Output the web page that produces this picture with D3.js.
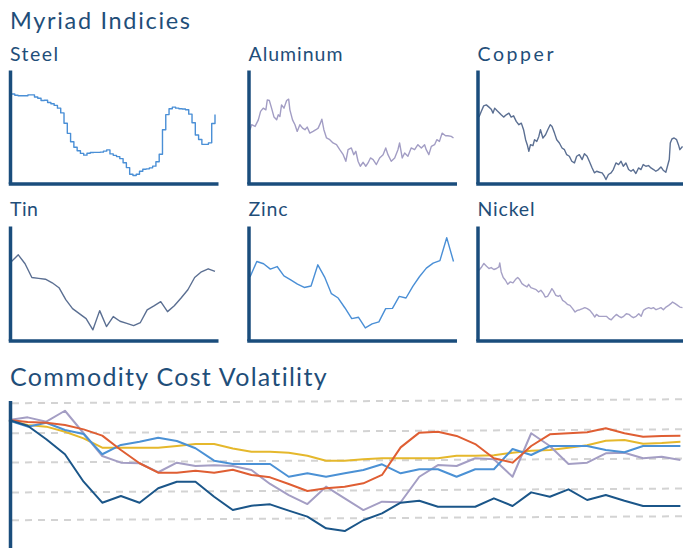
<!DOCTYPE html>
<html><head><meta charset="utf-8">
<script src="https://cdn.jsdelivr.net/npm/d3@7"></script>
<style>html,body{margin:0;padding:0;background:#fff;overflow:hidden}svg{display:block}</style>
</head><body>
<svg id="c" width="683" height="548"></svg>
<script>
// ---------- small-multiple data (index values, 0..100 of each panel's range) ----------
const steelValues = [78.8,77.8,77.3,77.3,77.3,78.1,78.1,76.2,75.1,73.1,73.4,71.4,70.3,68.8,66.4,62.2,53.1,44.2,36.8,32.0,28.9,26.5,25.0,26.7,27.3,27.4,27.4,27.6,28.5,29.6,26.1,24.8,23.7,21.9,18.3,14.0,8.2,7.1,8.2,10.8,12.6,12.9,13.8,15.3,19.2,25.8,47.3,60.7,65.8,67.3,66.4,65.9,65.6,65.0,61.1,53.5,42.7,38.8,34.5,34.5,35.8,52.8,60.7];

const aluminumWeeks = [0,0.8,2.5,4.1,5.2,6.5,7.8,8.5,9.5,10.6,11.8,13.1,13.9,14.7,15.5,16.7,18.0,19.0,19.6,20.9,22.1,23.2,24.5,25.8,27.0,28.1,29.4,31.0,32.4,33.5,34.6,35.3,36.3,37.6,39.2,40.8,42.5,44.1,45.8,47.1,48.2,49.8,51.0,52.0,53.1,54.2,55.6,56.9,58.0,59.2,60.5,62.1,63.7,65.4,66.7,67.8,69.4,71.1,72.7,73.5,74.8,76.0,77.6,79.2,80.9,82.5,84.2,85.8,86.6,87.9,89.1,90.7,91.8,93.1,94.4,96.1,97.2,98.9,100];
const aluminumValues = [47.4,51.8,50.3,56.1,63.5,66.4,64.9,73.7,73.1,66.4,58.5,56.1,60.5,59.1,69.3,66.4,73.1,74.3,64.9,56.1,51.8,45.9,51.8,48.8,47.4,49.7,44.4,45.9,47.4,48.8,53.2,56.7,47.4,40.1,38.6,35.7,34.2,29.8,25.4,19.6,29.8,31.3,25.4,28.4,19.6,15.2,18.7,15.2,18.1,22.5,21.1,16.7,22.5,25.4,31.3,25.4,19.6,22.5,29.8,35.7,22.5,26.9,24.0,31.3,29.8,34.2,31.3,34.2,29.8,25.4,32.7,34.2,38.6,37.1,44.4,42.1,42.1,41.5,40.1];

const copperWeeks = [0,1.1,2.3,3.6,4.9,6.0,6.9,7.7,8.8,9.8,10.9,12.1,13.4,14.7,15.8,17.0,18.3,19.6,20.8,21.9,22.9,23.7,24.5,25.3,26.5,27.3,28.4,29.4,30.2,31.4,32.7,33.8,35.0,35.9,37.1,38.2,39.5,40.8,42.0,43.1,44.4,45.6,46.9,48.0,49.3,50.7,51.8,53.1,54.2,55.6,56.7,57.8,59.2,60.5,61.6,62.4,63.6,64.9,66.0,67.3,68.6,69.8,70.9,72.2,73.5,74.7,75.8,77.1,78.4,79.6,80.7,82.0,83.3,84.5,85.8,86.9,88.2,89.4,90.5,91.8,92.6,93.5,94.0,94.8,95.9,97.1,98.0,98.7,100];
const copperValues = [58.5,63.5,68.4,69.3,67.3,65.5,62.0,66.4,64.3,62.6,60.5,58.5,60.5,62.0,58.5,59.6,54.7,51.8,53.2,47.4,38.6,34.2,28.4,34.2,33.3,38.6,37.1,41.5,47.4,40.1,43.0,47.4,51.8,50.3,44.4,38.6,35.7,31.3,29.8,25.4,24.0,19.6,18.1,24.0,25.4,21.1,26.3,24.0,19.6,13.7,9.4,10.8,9.9,9.4,6.4,3.5,7.9,9.4,12.3,18.1,16.7,19.6,15.2,18.1,12.3,10.8,12.3,8.8,13.7,12.3,16.7,15.2,15.8,13.7,12.3,10.8,12.3,14.6,11.7,9.9,15.2,21.1,35.7,39.2,40.1,38.6,34.2,29.8,32.7];

const tinValues = [69.0,74.8,67.0,55.0,54.3,53.5,50.4,46.1,35.7,27.8,23.5,19.1,9.3,26.1,12.2,20.9,16.8,15.0,13.0,15.7,26.7,30.2,33.9,25.2,30.4,37.1,44.3,55.0,60.0,62.6,60.3];

const zincValues = [55.4,69.0,67.0,62.3,64.6,56.5,53.0,49.3,46.3,47.6,66.1,55.4,40.9,37.1,28.4,19.1,20.3,11.0,14.5,16.3,27.8,28.1,38.5,37.1,47.2,55.9,63.2,67.6,69.8,89.8,69.0];

const nickelWeeks = [0,1.1,2.4,3.7,4.9,6.0,7.3,8.6,9.8,10.2,10.9,11.9,13.0,14.1,15.4,16.7,17.9,19.0,20.0,21.1,22.3,23.6,24.4,25.5,26.8,28.1,29.3,30.4,31.7,32.5,33.7,35.0,35.8,36.6,37.7,39.0,39.8,41.1,42.3,43.4,44.7,46.0,47.2,48.3,49.6,50.9,52.0,53.2,54.5,55.8,56.9,57.7,59.0,60.2,61.3,62.6,63.9,65.0,66.2,67.5,68.8,69.9,71.1,72.4,73.7,74.8,75.9,77.2,78.5,79.7,80.8,82.1,83.4,84.6,85.7,87.0,88.3,89.4,90.6,91.9,93.2,94.3,95.1,96.4,97.6,98.7,100];
const nickelValues = [61.4,63.7,67.3,64.9,62.9,63.7,62.0,62.9,64.3,67.8,59.9,55.0,52.6,49.1,51.2,50.3,53.2,55.0,53.2,49.7,48.2,46.8,49.1,46.2,45.3,44.4,42.4,43.9,40.9,38.0,38.6,42.4,45.3,43.3,39.5,38.6,39.5,35.1,33.6,31.6,30.7,27.8,24.9,26.3,26.9,27.8,28.7,27.8,26.3,23.4,20.5,22.8,21.1,21.1,21.1,21.1,19.0,18.1,20.5,22.8,21.1,19.9,21.1,23.4,22.8,21.1,19.9,21.1,23.4,21.1,26.3,27.8,28.7,27.8,28.7,26.9,27.8,28.7,26.9,29.2,30.7,32.2,33.6,32.2,30.7,29.2,28.7];

const panelNames = ["Steel","Aluminum","Copper","Tin","Zinc","Nickel"];

// ---------- volatility data (37 periods) ----------
const volNavy     = [85.3,81.5,72.5,62.5,44.2,30.2,34.7,30.2,39.8,44.2,44.2,34.2,25.3,28.2,29.1,24.9,20.9,13.1,11.3,18.5,23.1,30.2,31.5,27.5,27.5,27.5,33.1,28.0,37.1,34.2,39.1,32.0,35.3,31.5,28.0,28.0,28.0];
const volOrange   = [85.3,84.0,83.5,82.0,79.1,74.9,65.3,56.5,50.2,50.2,51.5,50.2,52.2,48.7,47.1,42.7,38.0,39.8,40.9,43.1,48.7,67.1,76.9,77.5,74.7,69.3,59.8,56.9,68.0,75.8,76.5,77.1,79.8,76.5,74.2,74.7,74.9];
const volYellow   = [84.9,82.0,80.9,77.5,73.1,66.9,66.9,66.9,66.9,68.0,69.3,69.3,66.3,64.2,64.2,63.5,61.5,58.2,58.2,59.1,59.8,59.8,59.8,59.8,61.5,61.5,61.8,63.5,64.9,65.3,66.9,68.5,71.5,72.0,69.5,70.0,70.9];
const volBlue     = [84.9,80.9,83.5,78.7,76.0,62.5,68.7,70.9,73.5,71.3,66.5,58.2,56.0,56.0,56.0,47.5,49.8,47.5,49.8,52.0,55.8,49.8,52.5,52.5,47.5,52.5,52.5,66.0,62.0,68.0,68.0,68.0,65.3,63.8,68.0,68.0,68.0];
const volLavender = [85.3,87.1,84.2,91.5,76.5,61.3,56.9,56.5,50.5,56.9,54.7,55.1,54.7,52.0,42.7,35.3,29.3,40.9,33.1,25.3,30.9,30.5,47.5,55.3,54.7,59.8,59.1,47.5,76.5,68.0,56.0,56.9,63.1,63.5,59.8,60.9,58.7];
const volGridTicks = [18.5,37,57,76.5,96.5];

// ---------- drawing ----------
const TEXT = "#1f4e79", AXIS = "#1a4d7c";
const FONT = "Lato, 'Open Sans', sans-serif";
const svg = d3.select("#c");

// text with spacing tuned so the word spans the measured width
function label(x, y, str, size, width) {
  const t = svg.append("text").attr("x",x).attr("y",y).text(str)
    .attr("font-family",FONT).attr("font-size",size).attr("fill",TEXT);
  const len = t.node().getComputedTextLength();
  if (width && str.length > 1) t.attr("letter-spacing", ((width - len) / (str.length - 1)).toFixed(2));
  return t;
}

label(10, 29, "Myriad Indicies", 23.5, 180);

const panels = [
  {t: d3.range(steelValues.length), v: steelValues, color:"#4a8fd6", curve:d3.curveStepAfter, w:48},
  {t: aluminumWeeks, v: aluminumValues, color:"#a29dc4", curve:d3.curveLinear, w:94},
  {t: copperWeeks, v: copperValues, color:"#5b6f92", curve:d3.curveLinear, w:76},
  {t: d3.range(tinValues.length), v: tinValues, color:"#5b6f92", curve:d3.curveLinear, w:28},
  {t: d3.range(zincValues.length), v: zincValues, color:"#4a8fd6", curve:d3.curveLinear, w:39},
  {t: nickelWeeks, v: nickelValues, color:"#a6a1c6", curve:d3.curveLinear, w:57}
];
const cols = [10, 248.5, 477.5];
const rows = [{top:70, bottom:183.5, title:61}, {top:226, bottom:340.5, title:215.5}];

panels.forEach((p,k)=>{
  const left = cols[k%3], r = rows[Math.floor(k/3)];
  const g = svg.append("g");
  label(left, r.title, panelNames[k], 19.5, p.w);
  const x = d3.scaleLinear().domain(d3.extent(p.t)).range([left+1.5, left+205]);
  const y = d3.scaleLinear().domain([0,100]).range([r.bottom, r.top]);
  g.append("path").datum(d3.zip(p.t,p.v))
    .attr("d", d3.line().curve(p.curve).x(d=>x(d[0])).y(d=>y(d[1])))
    .attr("fill","none").attr("stroke",p.color).attr("stroke-width",1.4).attr("stroke-linejoin","round");
  const xa = d3.scaleLinear().domain([0,1]).range([left-1.75, left+208]);
  g.append("g").attr("transform",`translate(0,${r.bottom})`)
    .call(d3.axisBottom(xa).tickValues([]).tickSizeOuter(0))
    .call(s=>s.select(".domain").attr("stroke",AXIS).attr("stroke-width",3.5));
  g.append("g").attr("transform",`translate(${left},0)`)
    .call(d3.axisLeft(y).tickValues([]).tickSizeOuter(0))
    .call(s=>s.select(".domain").attr("stroke",AXIS).attr("stroke-width",3.5));
});

// bottom chart
label(10, 386, "Commodity Cost Volatility", 25, 317);

const vx = d3.scaleLinear().domain([0, volNavy.length-1]).range([9, 680.4]);
const vy = d3.scaleLinear().domain([0,100]).range([548, 398]);

const grid = svg.append("g").attr("transform","translate(10,0) skewY(-0.34) translate(-10,0)");
grid.selectAll("line").data(volGridTicks).join("line")
  .attr("x1",12).attr("x2",690).attr("y1",d=>vy(d)).attr("y2",d=>vy(d))
  .attr("stroke","#d3d3d3").attr("stroke-width",2).attr("stroke-dasharray","7,6");

const series = [
  {v: volYellow, c:"#e5b82c"},
  {v: volLavender, c:"#a49ec4"},
  {v: volBlue, c:"#4b91d5"},
  {v: volOrange, c:"#df5e33"},
  {v: volNavy, c:"#1b5689"}
];
const vline = d3.line().x((d,i)=>vx(i)).y(d=>vy(d));
svg.append("g").selectAll("path").data(series).join("path")
  .attr("d", d=>vline(d.v)).attr("fill","none").attr("stroke",d=>d.c)
  .attr("stroke-width",2).attr("stroke-linejoin","round");

const ay = d3.scaleLinear().domain([0,1]).range([552, 400.5]);
svg.append("g").attr("transform","translate(10,0)")
  .call(d3.axisLeft(ay).tickValues([]).tickSizeOuter(0))
  .call(s=>s.select(".domain").attr("stroke",AXIS).attr("stroke-width",3.5));
</script>
</body></html>
